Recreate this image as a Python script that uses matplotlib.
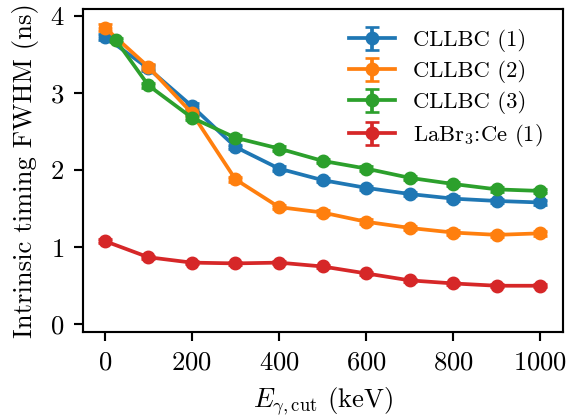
import numpy as np
import matplotlib
matplotlib.use("Agg")
import matplotlib.pyplot as plt

plt.rcParams['font.family'] = 'serif'
plt.rcParams['font.serif'] = ['cmr10']
plt.rcParams['mathtext.fontset'] = 'cm'
plt.rcParams['axes.formatter.use_mathtext'] = True
plt.rcParams['font.size'] = 10

# energy cut values (keV)
e_cut = [0, 100, 200, 300, 400, 500, 600, 700, 800, 900, 1000]
e_cut_3 = [25, 100, 200, 300, 400, 500, 600, 700, 800, 900, 1000]

# FWHM values (ns)
cllbc_1 = [3.73, 3.32, 2.83, 2.30, 2.02, 1.87, 1.77, 1.69, 1.63, 1.60, 1.58]
cllbc_2 = [3.85, 3.34, 2.74, 1.88, 1.52, 1.45, 1.33, 1.25, 1.19, 1.16, 1.18]
cllbc_3 = [3.69, 3.10, 2.68, 2.42, 2.28, 2.12, 2.02, 1.90, 1.82, 1.75, 1.73]
labr_1 = [1.08, 0.87, 0.80, 0.79, 0.80, 0.75, 0.66, 0.57, 0.53, 0.50, 0.50]

# uncertainties (ns)
err_1 = [0.04, 0.04, 0.04, 0.03, 0.03, 0.03, 0.03, 0.03, 0.03, 0.03, 0.03]
err_2 = [0.04, 0.04, 0.04, 0.03, 0.03, 0.03, 0.03, 0.03, 0.03, 0.03, 0.03]
err_3 = [0.03, 0.03, 0.03, 0.03, 0.03, 0.03, 0.03, 0.03, 0.03, 0.03, 0.03]
err_4 = [0.03, 0.02, 0.02, 0.02, 0.02, 0.02, 0.02, 0.02, 0.02, 0.02, 0.02]

fig, ax = plt.subplots(figsize=(580 / 192, 416 / 192), dpi=192)
fig.subplots_adjust(left=83 / 580, right=563 / 580, bottom=1 - 332 / 416, top=1 - 9 / 416)
kw = dict(fmt='o-', capsize=2.5, markersize=4.2, linewidth=1.4)
ax.errorbar(e_cut, cllbc_1, yerr=err_1, label='CLLBC (1)', **kw)
ax.errorbar(e_cut, cllbc_2, yerr=err_2, label='CLLBC (2)', **kw)
ax.errorbar(e_cut_3, cllbc_3, yerr=err_3, label='CLLBC (3)', **kw)
ax.errorbar(e_cut, labr_1, yerr=err_4, label='LaBr$_3$:Ce (1)', **kw)

ax.set_xlim(-50, 1052)
ax.set_ylim(-0.1, 4.09)
ax.set_yticks([0, 1, 2, 3, 4])
ax.set_xticks([0, 200, 400, 600, 800, 1000])
ax.set_xlabel(r'$E_{\gamma,\mathrm{cut}}$ (keV)')
ax.set_ylabel('Intrinsic timing FWHM (ns)')
ax.legend(frameon=False, loc='upper right', fontsize=8.5, labelspacing=0.35)
fig.savefig('out.png', dpi=192)
